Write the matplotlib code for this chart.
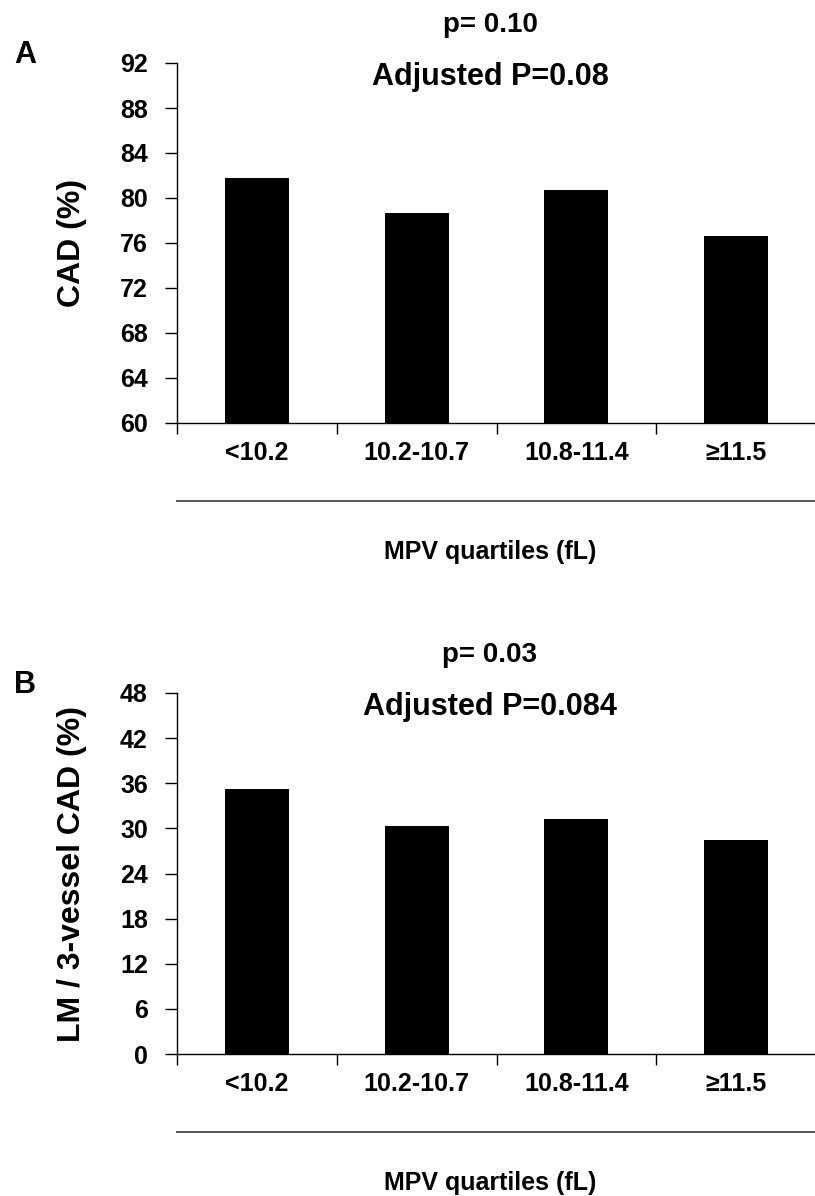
import matplotlib.pyplot as plt
from matplotlib.lines import Line2D

# MPV quartile groups and the share of patients in each group
quartiles = ["<10.2", "10.2-10.7", "10.8-11.4", "\u226511.5"]
cad_pct = [81.8, 78.7, 80.7, 76.6]
lm3v_pct = [35.3, 30.3, 31.3, 28.4]

plt.rcParams["font.family"] = ["Liberation Sans", "DejaVu Sans"]
plt.rcParams["font.weight"] = "bold"

W, H = 815, 1196
fig = plt.figure(figsize=(W / 100, H / 100), dpi=100)
fig.patch.set_facecolor("white")

AX_LEFT, AX_RIGHT = 177, 816
X_MID = 490


def px_axes(top, bottom):
    return fig.add_axes([AX_LEFT / W, 1 - bottom / H, (AX_RIGHT - AX_LEFT) / W, (bottom - top) / H])


def px_text(x, y, s, size, **kw):
    fig.text(x / W, 1 - y / H, s, fontsize=size, fontweight="bold", va="center", **kw)


def panel(values, top, bottom, ymin, ymax, step, ylabel, p_text, adj_text, letter):
    ax = px_axes(top, bottom)
    x = range(len(values))
    ax.bar(x, [v - ymin for v in values], bottom=ymin, width=0.4, color="black", zorder=2)
    ax.set_xlim(-0.5, len(values) - 0.5)
    ax.set_ylim(ymin, ymax)
    ax.set_yticks(range(ymin, ymax + 1, step))
    ax.set_xticks([i - 0.5 for i in range(len(values) + 1)])
    ax.set_xticklabels([])
    ax.tick_params(axis="y", direction="out", length=9, width=1, pad=12, labelsize=18)
    ax.tick_params(axis="x", direction="out", length=8, width=1)
    for lab in ax.get_yticklabels():
        lab.set_fontweight("bold")
    for s in ("top", "right"):
        ax.spines[s].set_visible(False)
    for s in ("left", "bottom"):
        ax.spines[s].set_linewidth(1)

    # category labels centred under each bar
    for i, q in enumerate(quartiles):
        ax.annotate(q, xy=(i, 0), xycoords=("data", "axes fraction"), xytext=(0, -30),
                    textcoords="offset pixels", ha="center", va="center",
                    fontsize=18, fontweight="bold")

    # rule and axis title below the category labels
    line_y = 1 - (bottom + 78) / H
    fig.add_artist(Line2D([AX_LEFT / W, 1], [line_y, line_y], color="#555555", linewidth=1.4))
    px_text(X_MID, bottom + 129, "MPV quartiles (fL)", 18, ha="center")

    ax.set_ylabel(ylabel, fontsize=23, fontweight="bold")
    ax.yaxis.set_label_coords((87 - AX_LEFT) / (AX_RIGHT - AX_LEFT), 0.5)

    px_text(X_MID, top - 38, p_text, 20, ha="center")
    px_text(X_MID, top + 14, adj_text, 22, ha="center")
    px_text(25, top - 8, letter, 22, ha="center")
    return ax


panel(cad_pct, 63, 423, 60, 92, 4, "CAD (%)", "p= 0.10", "Adjusted P=0.08", "A")
panel(lm3v_pct, 693, 1054, 0, 48, 6, "LM / 3-vessel CAD (%)", "p= 0.03", "Adjusted P=0.084", "B")

fig.savefig("out.png", dpi=100, facecolor="white")
